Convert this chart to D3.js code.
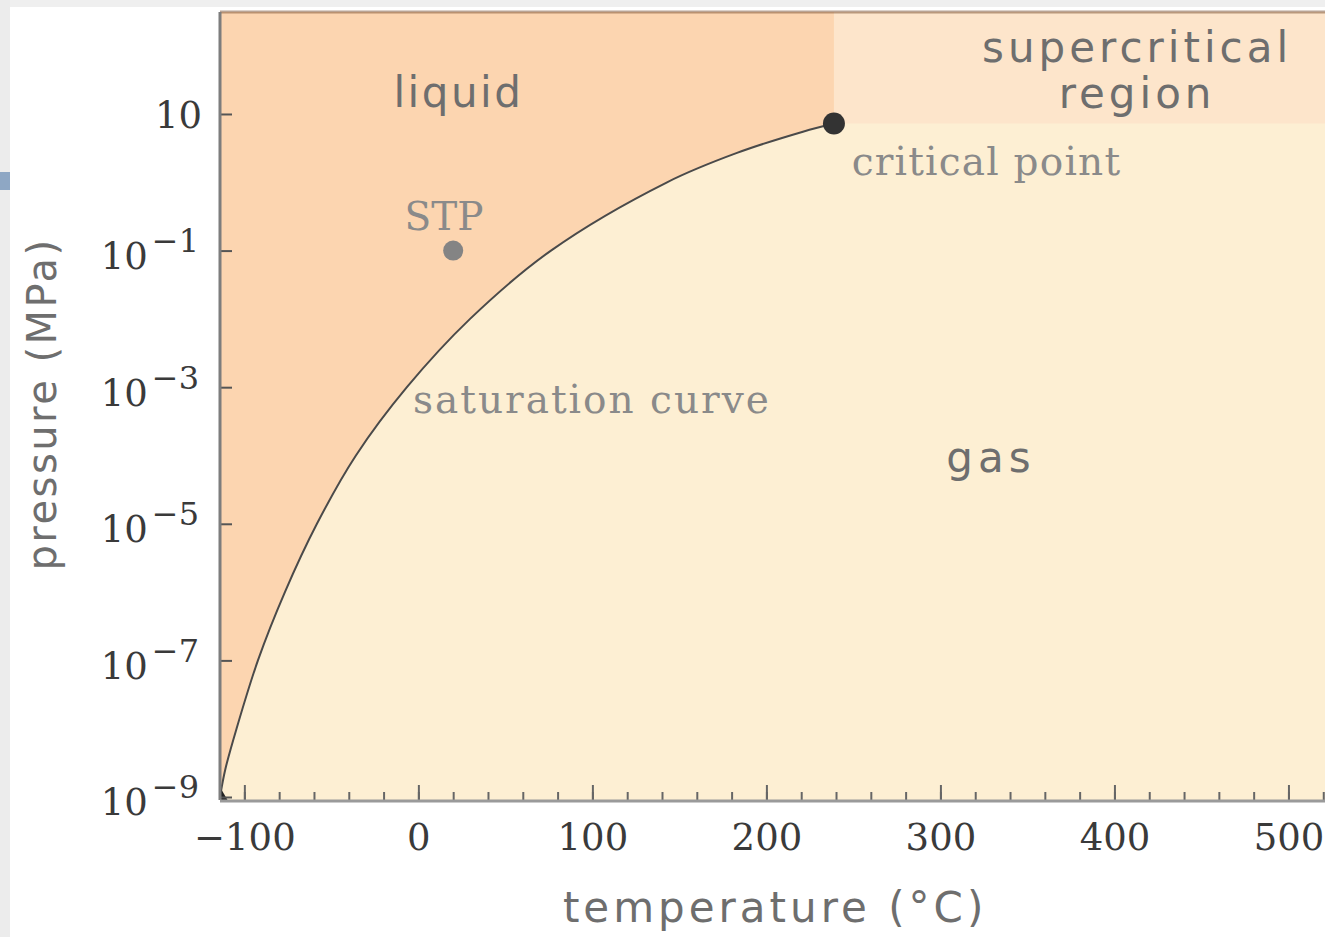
<!DOCTYPE html>
<html>
<head>
<meta charset="utf-8">
<script src="https://cdn.jsdelivr.net/npm/d3@7"></script>
<style>
    body { margin: 0; background: #fff; overflow: hidden; }
    svg { display: block; }
    .serif { font-family: "DejaVu Serif", serif; }
    .sans { font-family: "DejaVu Sans", sans-serif; }
</style>
</head>
<body>
<div id="chart"></div>
<script>
// saturation curve: temperature (°C) and log10 of pressure (MPa)
const curveTemp = [-114, -111, -104.5, -92.2, -76.7, -58.3, -35.9, -6.6, 29.7, 76.2, 142.9, 183.1, 221, 238.8];
const curveLogP = [-9, -8.6, -8, -7, -6, -5, -4, -3, -2, -1, 0, 0.43, 0.74, 0.86];

// special points
const criticalPoint = [238.8, Math.pow(10, 0.86)];
const stpPoint = [20, 0.1];

// ticks
const xTickValues = [-100, 0, 100, 200, 300, 400, 500];
const xTickLabels = ["\u2212100", "0", "100", "200", "300", "400", "500"];
const yTickExponents = [1, -1, -3, -5, -7, -9];

// axis ranges
const tempRange = [-114, 521];
const logPRange = [-9.044, 2.493];

const curveData = curveTemp.map((t, i) => ({t: t, p: Math.pow(10, curveLogP[i])}));

// margin conventions
const W = 1325, H = 937;
const margin = {top: 12, right: 0, bottom: 137, left: 220};
const width = W - margin.left - margin.right;
const height = H - margin.top - margin.bottom;

const svg = d3.select("#chart").append("svg")
    .attr("width", W)
    .attr("height", H);

// screenshot frame strips
svg.append("rect").attr("x", 0).attr("y", 0).attr("width", W).attr("height", 7).attr("fill", "#efefef");
svg.append("rect").attr("x", 0).attr("y", 0).attr("width", 10).attr("height", H).attr("fill", "#ececec");
svg.append("rect").attr("x", 0).attr("y", 172).attr("width", 10).attr("height", 18).attr("fill", "#8ea7c4");

const g = svg.append("g")
    .attr("transform", "translate(" + margin.left + "," + margin.top + ")");

// scales
const x = d3.scaleLinear().domain(tempRange).range([0, width]);
const y = d3.scaleLog()
    .domain([Math.pow(10, logPRange[0]), Math.pow(10, logPRange[1])])
    .range([height, 0]);

g.append("clipPath").attr("id", "plotclip")
    .append("rect").attr("width", width).attr("height", height);

const plot = g.append("g").attr("clip-path", "url(#plotclip)");

// gas (background)
plot.append("rect")
    .attr("width", width).attr("height", height)
    .attr("fill", "#fdefd3");

// supercritical region
plot.append("rect")
    .attr("x", x(criticalPoint[0]))
    .attr("y", 0)
    .attr("width", width - x(criticalPoint[0]))
    .attr("height", y(criticalPoint[1]))
    .attr("fill", "#fde5cb");

// liquid region: between curve and top of plot
const liquidArea = d3.area()
    .x(d => x(d.t))
    .y0(0)
    .y1(d => y(d.p))
    .curve(d3.curveCatmullRom.alpha(0.5));

plot.append("path")
    .datum(curveData)
    .attr("d", liquidArea)
    .attr("fill", "#fcd5b0");

// saturation curve
const line = d3.line()
    .x(d => x(d.t))
    .y(d => y(d.p))
    .curve(d3.curveCatmullRom.alpha(0.5));

plot.append("path")
    .datum(curveData)
    .attr("d", line)
    .attr("fill", "none")
    .attr("stroke", "#4a4a4a")
    .attr("stroke-width", 2);

// triple point marker in the corner
plot.append("path")
    .attr("transform", "translate(" + x(curveData[0].t) + "," + y(curveData[0].p) + ")")
    .attr("d", d3.symbol().type(d3.symbolTriangle).size(130))
    .attr("fill", "#222");

// STP point
plot.append("circle")
    .attr("cx", x(stpPoint[0])).attr("cy", y(stpPoint[1]))
    .attr("r", 10)
    .attr("fill", "#848484");

// critical point
plot.append("circle")
    .attr("cx", x(criticalPoint[0])).attr("cy", y(criticalPoint[1]))
    .attr("r", 11)
    .attr("fill", "#333");

// frame: top line
g.append("line")
    .attr("x1", 0).attr("x2", width).attr("y1", 0).attr("y2", 0)
    .attr("stroke", "rgba(130,90,60,0.55)").attr("stroke-width", 3);

// x axis ticks (major + minor)
const xMinor = g.append("g")
    .attr("transform", "translate(0," + height + ")")
    .call(d3.axisBottom(x).tickValues(d3.range(-100, 521, 20)).tickSize(-8).tickFormat(""));
const xMajor = g.append("g")
    .attr("transform", "translate(0," + height + ")")
    .call(d3.axisBottom(x).tickValues(xTickValues).tickSize(-15).tickFormat((d, i) => xTickLabels[i]).tickPadding(30));

[xMinor, xMajor].forEach(a => {
    a.select(".domain").remove();
    a.selectAll(".tick line").attr("stroke", "#666").attr("stroke-width", 2);
});
xMajor.selectAll(".tick text")
    .attr("class", "serif")
    .attr("font-size", 37)
    .attr("fill", "#3a3a3a")
    .attr("y", 50)
    .attr("dy", 0);

// y axis ticks
const yAxis = g.append("g")
    .call(d3.axisLeft(y).tickValues(yTickExponents.map(e => Math.pow(10, e))).tickSize(-12).tickFormat(""));
yAxis.select(".domain").remove();
yAxis.selectAll(".tick line").attr("stroke", "#555").attr("stroke-width", 2);

yAxis.selectAll(".tick").each(function(d, i) {
    const e = yTickExponents[i];
    const t = d3.select(this).append("text")
        .attr("class", "serif")
        .attr("x", e === 1 ? -18 : -21)
        .attr("y", e === 1 ? 13.5 : 18)
        .attr("text-anchor", "end")
        .attr("fill", "#3a3a3a")
        .attr("font-size", 37);
    t.append("tspan").text("10");
    if (e !== 1) {
        t.append("tspan")
            .attr("font-size", 32)
            .attr("dx", 4)
            .attr("dy", -17)
            .text("\u2212" + Math.abs(e));
    }
});

g.append("line")
    .attr("x1", 0).attr("x2", 0).attr("y1", 0).attr("y2", height)
    .attr("stroke", "#7d7d7d").attr("stroke-width", 3);
g.append("line")
    .attr("x1", 0).attr("x2", width).attr("y1", height + 1).attr("y2", height + 1)
    .attr("stroke", "#9a9a9a").attr("stroke-width", 3);

// region labels (sans)
function sansLabel(txt, t, lp, ls) {
    g.append("text")
        .attr("class", "sans")
        .attr("x", x(t)).attr("y", y(Math.pow(10, lp)))
        .attr("text-anchor", "middle")
        .attr("font-size", 42)
        .attr("letter-spacing", ls)
        .attr("fill", "#6e6e6e")
        .text(txt);
}
sansLabel("liquid", 23, 1.10, 2.5);
sansLabel("supercritical", 413, 1.76, 4);
sansLabel("region", 413, 1.09, 4);
sansLabel("gas", 329, -4.24, 5);

// annotations (serif)
function serifLabel(txt, t, lp, anchor, ls) {
    g.append("text")
        .attr("class", "serif")
        .attr("x", x(t)).attr("y", y(Math.pow(10, lp)))
        .attr("text-anchor", anchor)
        .attr("font-size", 39)
        .attr("letter-spacing", ls)
        .attr("fill", "#8a8a8a")
        .text(txt);
}
serifLabel("STP", 14.7, -0.70, "middle", 0);
serifLabel("critical point", 249, 0.107, "start", 1.2);
serifLabel("saturation curve", -3.1, -3.38, "start", 2);

// axis titles
svg.append("text")
    .attr("class", "sans")
    .attr("x", margin.left + x(205))
    .attr("y", 922)
    .attr("text-anchor", "middle")
    .attr("font-size", 42)
    .attr("letter-spacing", 4)
    .attr("fill", "#6e6e6e")
    .text("temperature (\u00b0C)");

svg.append("text")
    .attr("class", "sans")
    .attr("transform", "translate(56,404) rotate(-90)")
    .attr("text-anchor", "middle")
    .attr("font-size", 40)
    .attr("letter-spacing", 2.5)
    .attr("fill", "#6e6e6e")
    .text("pressure (MPa)");
</script>
</body>
</html>
